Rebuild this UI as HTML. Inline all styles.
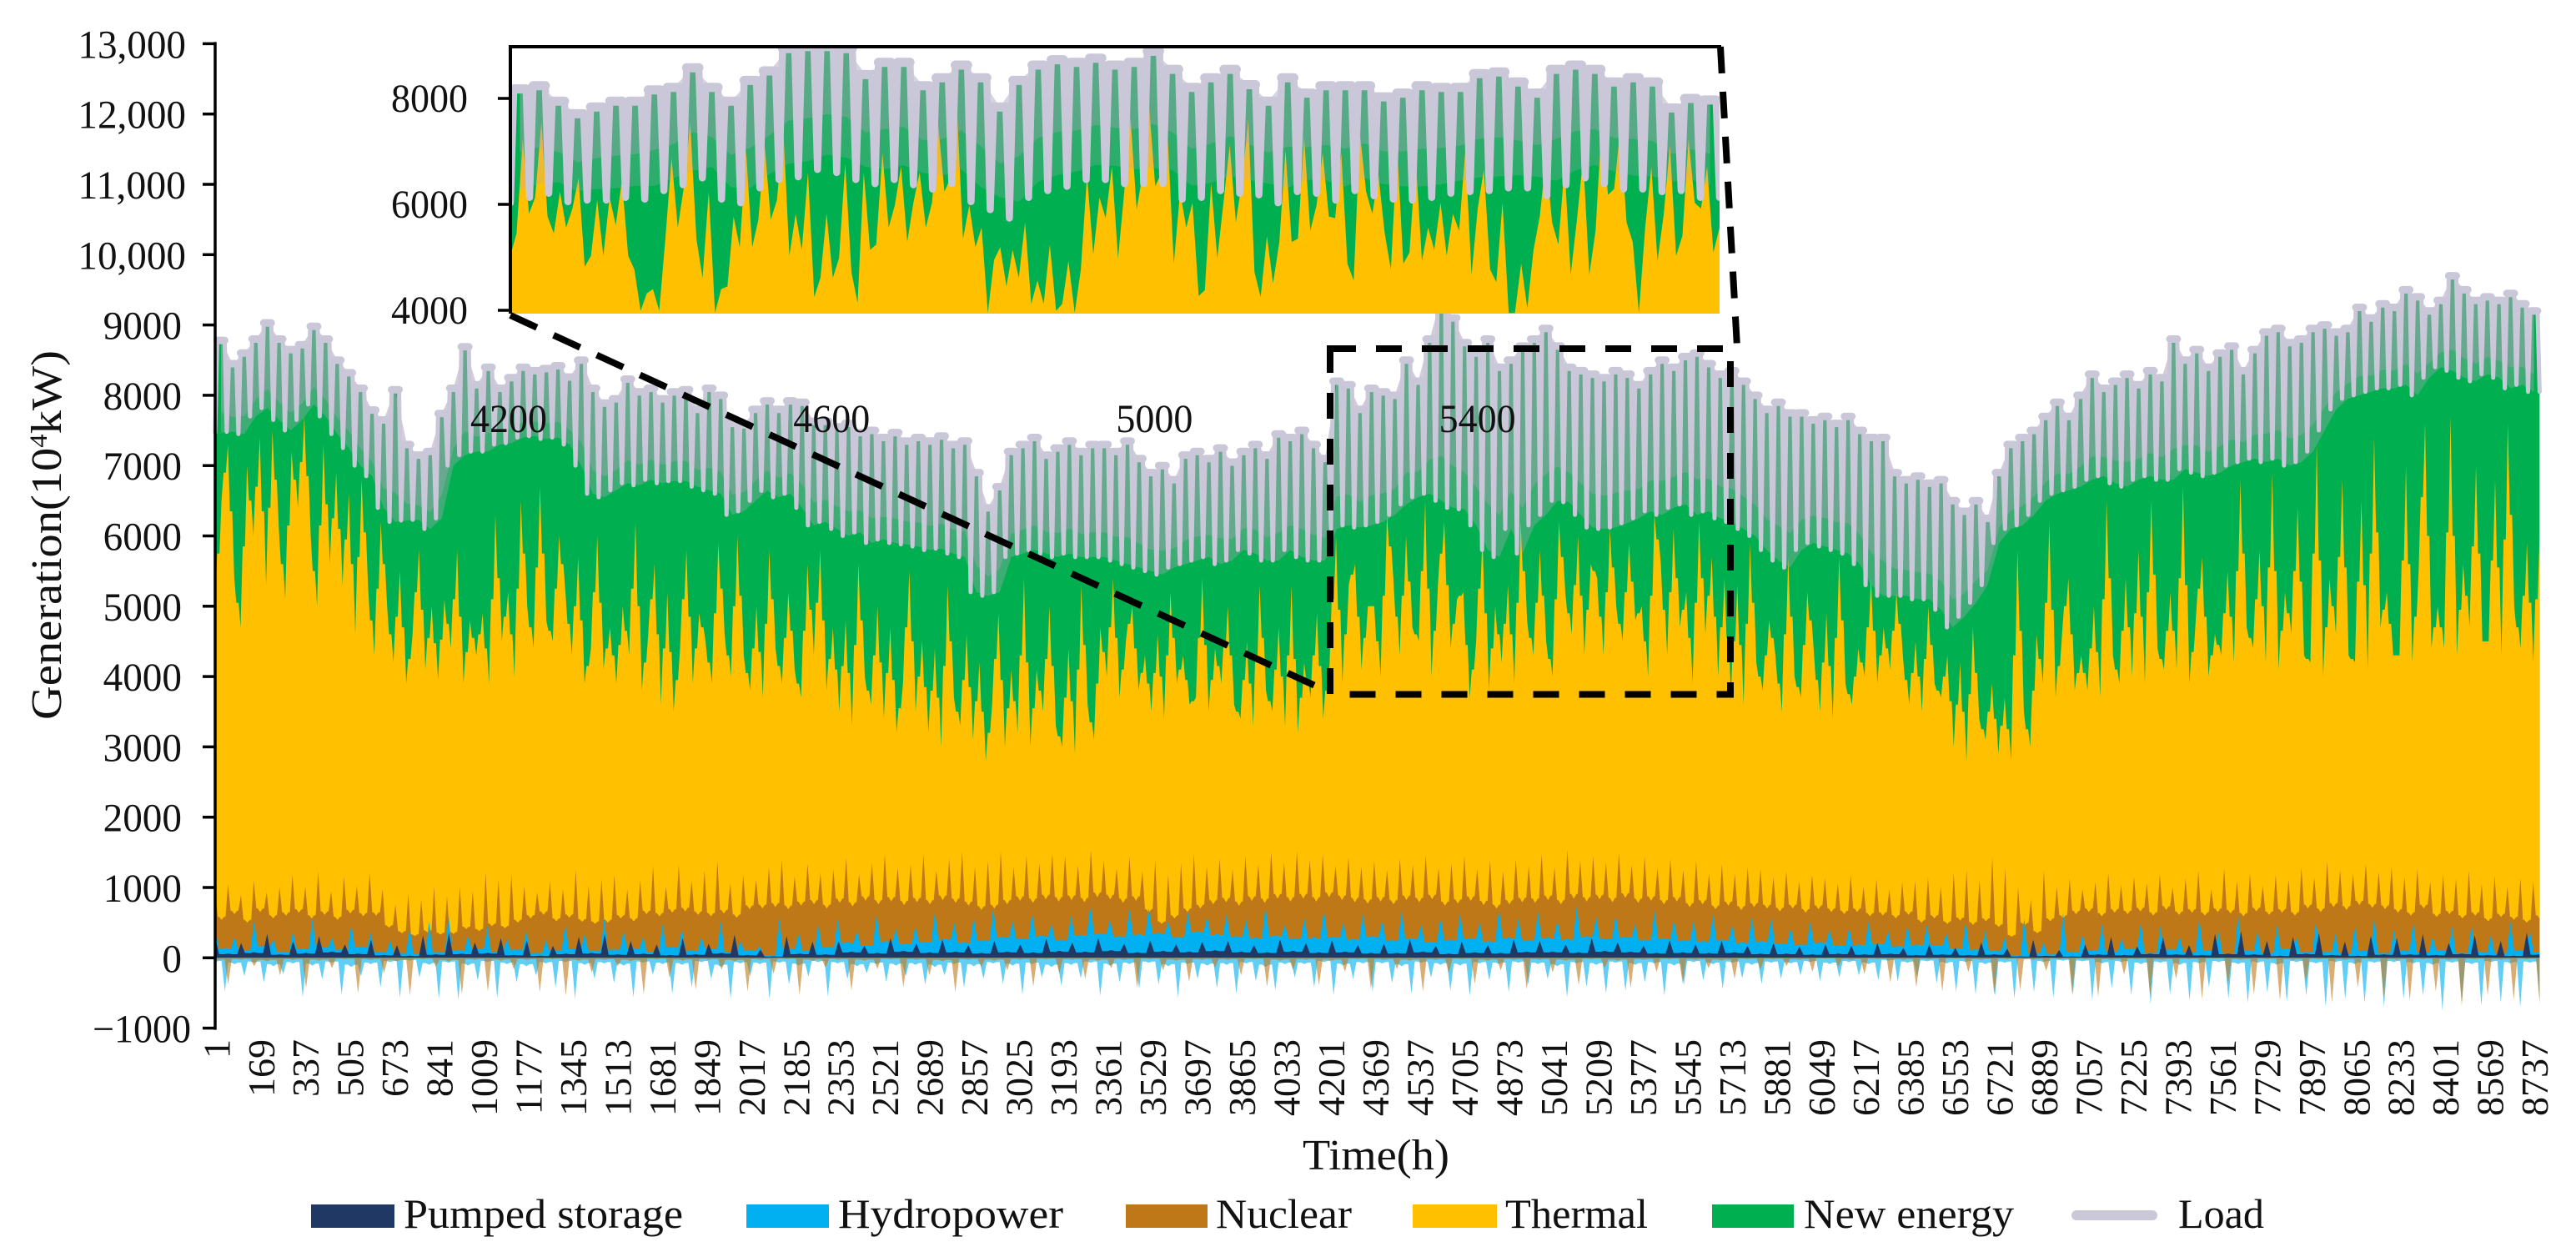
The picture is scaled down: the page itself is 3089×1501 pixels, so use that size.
<!DOCTYPE html>
<html lang="en">
<head>
<meta charset="utf-8">
<title>Generation stack chart</title>
<style>
html,body{margin:0;padding:0;background:#fff;}
svg{display:block;font-family:"Liberation Serif",serif;fill:#111;}
</style>
</head>
<body>
<svg id="chart" xmlns="http://www.w3.org/2000/svg" width="3089" height="1501" viewBox="0 0 3089 1501">
  <defs>
    <clipPath id="inset-clip"><rect x="612" y="56" width="1450" height="320"/></clipPath>
  </defs>
  <rect x="0" y="0" width="3089" height="1501" fill="#fff"/>
  <g id="main-marks"></g>
  <g id="axes"></g>
  <text transform="translate(73,863) rotate(-90)" font-size="52" textLength="443" lengthAdjust="spacingAndGlyphs">Generation(10<tspan font-size="30" dy="-17">4</tspan><tspan dy="17">kW)</tspan></text>
  <text x="1562" y="1402" font-size="52" textLength="176" lengthAdjust="spacingAndGlyphs">Time(h)</text>

  <rect x="1595" y="418" width="480" height="414.5" fill="none" stroke="#000" stroke-width="8" stroke-dasharray="31 24"/>
  <g id="inset-marks" clip-path="url(#inset-clip)"></g>
  <g id="inset-axes"></g>
  <line x1="610" y1="56" x2="2064" y2="56" stroke="#000" stroke-width="4"/>
  <line x1="612" y1="54" x2="612" y2="376" stroke="#000" stroke-width="4"/>
  <line x1="612" y1="378" x2="1590" y2="828" stroke="#000" stroke-width="8" stroke-dasharray="35 22"/>
  <line x1="2063" y1="56" x2="2083" y2="416" stroke="#000" stroke-width="8" stroke-dasharray="32 22"/>

  <g id="inset-x-labels"></g>

  <g>
    <g>
      <rect x="373" y="1444" width="100" height="28" fill="#1F3864"/>
      <text x="484" y="1472" font-size="50" textLength="335" lengthAdjust="spacingAndGlyphs">Pumped storage</text>
    </g>
    <g>
      <rect x="895" y="1444" width="99" height="28" fill="#00B0F0"/>
      <text x="1005" y="1472" font-size="50" textLength="270" lengthAdjust="spacingAndGlyphs">Hydropower</text>
    </g>
    <g>
      <rect x="1350" y="1444" width="98" height="28" fill="#BF7817"/>
      <text x="1458" y="1472" font-size="50" textLength="163" lengthAdjust="spacingAndGlyphs">Nuclear</text>
    </g>
    <g>
      <rect x="1694" y="1444" width="101" height="28" fill="#FFC000"/>
      <text x="1805" y="1472" font-size="50" textLength="171" lengthAdjust="spacingAndGlyphs">Thermal</text>
    </g>
    <g>
      <rect x="2053" y="1444" width="98" height="28" fill="#00B050"/>
      <text x="2163" y="1472" font-size="50" textLength="252" lengthAdjust="spacingAndGlyphs">New energy</text>
    </g>
    <g>
      <line x1="2490" y1="1457" x2="2581" y2="1457" stroke="#CAC7D9" stroke-width="12" stroke-linecap="round"/>
      <text x="2612" y="1472" font-size="50" textLength="103" lengthAdjust="spacingAndGlyphs">Load</text>
    </g>
  </g>
</svg>
<script>
const yTickValues = [-1000,0,1000,2000,3000,4000,5000,6000,7000,8000,9000,10000,11000,12000,13000];
const yTickLabels = ["\u22121000","0","1000","2000","3000","4000","5000","6000","7000","8000","9000","10,000","11,000","12,000","13,000"];
const xTickLabels = [1,169,337,505,673,841,1009,1177,1345,1513,1681,1849,2017,2185,2353,2521,2689,2857,3025,3193,3361,3529,3697,3865,4033,4201,4369,4537,4705,4873,5041,5209,5377,5545,5713,5881,6049,6217,6385,6553,6721,6889,7057,7225,7393,7561,7729,7897,8065,8233,8401,8569,8737];
const insetYTicks = [4000,6000,8000];
const insetXLabels = [4200,4600,5000,5400];

const loadPeaks = [
8780,8450,8600,8800, 9030,8800,8650,8720, 8980,8800,8500,8320, 8100,7790,7650,8080,
7300,7150,7200,7740, 8100,8690,8150,8400, 8100,8250,8400,8350, 8380,8420,8260,8500,
8100,7890,7950,8230, 8050,8100,7950,8050, 8080,7800,8100,8000, 7600,7580,7800,7920,
7800,7920,7900,7630, 7630,7550,7600,7470, 7500,7400,7470,7350, 7400,7350,7420,7300,
7350,6900,6400,6700, 7200,7300,7400,7150, 7250,7350,7200,7300, 7300,7200,7350,7100,
6900,7000,6800,7150, 7200,7100,7250,7050, 7200,7300,7150,7450, 7400,7500,7300,7100,
8200,8150,7800,8100, 8050,8000,8500,8200, 8800,9400,9100,8750, 8600,8800,8400,8500,
8700,8800,8950,8700, 8400,8350,8300,8250, 8350,8300,8150,8350, 8500,8400,8550,8600,
8450,8300,8350,8200, 8000,7800,7900,7750, 7750,7650,7700,7600, 7700,7500,7400,7400,
6900,6800,6850,6750, 6800,6500,6350,6500, 6250,6900,7300,7400, 7500,7700,7900,7700,
8000,8300,8100,8200, 8300,8150,8350,8250, 8800,8500,8650,8400, 8600,8700,8350,8650,
8900,8950,8750,8800, 8950,9000,8900,8950, 9250,9100,9300,9250, 9500,9400,9200,9350,
9700,9500,9350,9400, 9350,9450,9300,9200];
const loadTroughs = [
7470,7480,7450,7700, 7820,7650,7500,7650, 7870,7700,7450,7250, 7000,6850,6400,6200,
6220,6230,6100,6250, 7000,7150,7200,7200, 7300,7320,7400,7420, 7380,7400,7300,7000,
6600,6550,6650,6750, 6720,6800,6750,6780, 6780,6700,6650,6600, 6300,6350,6500,6640,
6550,6600,6400,6150, 6200,6100,6000,6050, 5900,5950,5900,5880, 5850,5800,5820,5750,
5700,5200,5150,5200, 5700,5750,5800,5750, 5700,5750,5700,5700, 5700,5650,5600,5550,
5500,5450,5550,5600, 5650,5700,5600,5650, 5800,5750,5650,5650, 5800,5700,5650,5650,
6100,6150,6120,6150, 6200,6300,6450,6550, 6600,6500,6400,6380, 6150,5800,5700,6100,
5750,6150,6300,6500, 6480,6300,6120,6100, 6120,6180,6250,6350, 6300,6400,6450,6300,
6350,6250,6200,6100, 6000,5800,5650,5550, 5800,5900,5850,5800, 5750,5600,5300,5150,
5150,5150,5100,5100, 4950,4700,4850,5050, 5300,5900,6100,6150, 6300,6500,6600,6650,
6700,6800,6850,6750, 6700,6800,6850,6800, 6800,6950,6900,6850, 6900,7000,7050,7100,
7050,7100,7000,7050, 7200,7500,7800,7950, 8000,8050,8100,8100, 8150,8000,8250,8400,
8350,8250,8200,8300, 8250,8100,8150,8050];
const thermalTop = [
5000,6500,7300,5400,4700,7000,6000, 7400,5300,7500,6100,5100,7200,6400, 7700,6000,5000,7300,5600,6900,5300,
6600,4600,6800,5300,4300,6200,5000, 4200,5500,3900,4600,5800,4100,5000, 3950,5100,4400,5800,3900,4800,4300,
4900,3900,6300,4500,5200,4000,6500, 5000,4400,6700,4800,4500,6000,5200, 4300,5700,3900,4400,6000,4100,4700,
3900,5000,4300,6200,3800,4600,5600, 3600,5200,3500,4400,5800,3900,4900, 4500,3900,5900,4600,4000,6000,4300,
3800,5000,3700,5800,4400,3900,5200, 4100,3700,5600,4300,5800,3800,4700, 3500,4800,3300,5600,4000,3600,5000,
3400,4700,3200,3900,5500,3500,4500, 3200,4400,3000,5300,3700,3300,4600, 3100,4200,2800,3600,4900,3000,4100,
3200,5400,3000,4100,3500,5000,3300, 3000,4400,2900,5300,3600,3100,4700, 4000,5400,3700,4500,5000,3800,4300,
3500,4600,3400,5200,3900,4300,3600, 3700,5400,3500,4400,3900,5000,3600, 3400,4500,3300,5300,3800,3500,4700,
3300,5300,3200,4200,3700,4900,3400, 4200,6000,3900,5300,5600,4100,5000, 5000,4000,6300,5400,4300,6000,4700,
4500,6500,4000,5300,6200,4400,5100, 5200,3700,4500,6000,3800,5000,4200, 5300,3900,6200,4800,4300,5800,4500,
4000,6200,5200,4600,6000,4300,5600, 5400,4300,6100,5000,4500,5900,4800, 5000,4000,6300,5600,4300,6100,4700,
5200,3900,6200,4600,5700,4000,5400, 3700,5300,3600,5900,4200,3800,4800, 4300,3500,5700,4000,3700,5200,4400,
3500,4900,3400,5700,3900,3600,4400, 4000,5400,3900,4700,4100,5200,4300, 3600,4500,3500,5000,3900,3700,4300,
3000,4200,2800,4700,3400,3100,3900, 2900,3700,2800,5800,3500,3000,4600, 3900,6200,3700,4600,5400,3800,4300,
3800,5000,3700,6500,4300,3900,5400, 4000,5800,3900,6500,4400,4100,5200, 4100,6700,3900,4800,5700,4000,4600,
4300,5500,4200,6800,4700,4400,5800, 4200,6900,4100,5200,4600,6400,4300, 4200,7300,4000,5400,4600,6800,4300,
4200,6500,4100,7400,4700,5200,4300, 4300,7000,4200,5500,7600,4400,5000, 4400,7700,4300,5600,4700,7000,4500,
4500,6800,4300,7600,5000,4400,5900, 4200,6000];
const nuclearTop = [
980,540,1050,620,890,500,1100,650,930,560,1010,600,
1180,640,1010,560,1230,610,950,540,1160,630,1020,590,
1210,600,980,430,760,350,920,310,830,360,1010,330,
880,340,1020,410,950,380,1210,450,1120,420,1190,500,
1020,560,930,610,1090,520,980,570,1250,510,1030,480,
1120,500,1180,560,970,520,1110,620,1310,590,1010,640,
1320,660,1100,610,1240,590,1380,630,1060,570,1180,690,
1110,700,1290,720,1400,690,1160,740,1340,760,1210,700,
1260,780,1420,730,1190,810,1350,760,1470,800,1280,750,
1330,790,1480,760,1240,820,1410,780,1510,740,1300,680,
1380,700,1520,760,1290,810,1450,780,1340,830,1490,800,
1460,820,1310,790,1530,860,1390,830,1270,780,1440,810,
1240,640,1390,480,1180,560,1350,650,1480,700,1300,760,
1410,790,1260,740,1450,810,1330,780,1500,840,1360,800,
1520,840,1390,800,1470,860,1310,820,1430,790,1290,770,
1380,800,1250,760,1410,820,1320,790,1460,830,1280,740,
1340,770,1450,810,1270,750,1390,700,1230,760,1400,790,
1310,780,1470,820,1290,760,1540,840,1380,800,1450,830,
1360,790,1500,850,1320,780,1440,810,1280,760,1410,800,
1250,720,1380,760,1200,690,1330,740,1190,680,1290,720,
1270,700,1150,660,1230,700,1090,640,1180,690,1130,650,
1060,620,1180,650,1010,590,1120,600,980,560,1080,610,
1090,500,1150,560,1020,480,1200,530,1240,470,1110,520,
1430,440,1280,300,1000,460,830,350,1240,520,1010,560,
1130,620,980,650,1080,590,1210,640,1040,620,1150,660,
1060,600,1190,680,1010,610,1130,640,1240,600,980,650,
1270,630,1090,590,1200,660,1030,610,1180,640,1110,600,
1290,700,1140,650,1370,720,1250,680,1200,750,1340,710,
1220,690,1300,640,1150,600,1260,700,1080,580,1190,620,
1120,560,1240,600,1050,520,1170,580,1010,540,1130,500,1090,560];
const hydroTop = [
440,140,300,110,520,170,260,90, 380,130,560,150,290,120,470,160, 350,80,250,70,420,60,510,90,
600,110,320,130,450,90,270,120, 390,70,250,110,470,130,350,100, 560,120,380,140,300,90,480,150,
410,100,290,130,520,80,240,110, 170,40,560,130,360,100,480,150, 540,220,380,180,620,240,410,200,
450,230,660,270,500,220,580,250, 700,300,520,280,640,320,480,260, 600,330,760,350,540,310,690,340,
710,360,520,300,640,380,590,340, 620,310,540,290,730,320,470,280, 560,290,680,300,500,270,620,310,
540,250,660,280,470,230,580,260, 620,280,500,240,700,290,560,250, 650,290,530,270,740,310,590,280,
610,300,480,260,680,280,540,250, 520,240,620,260,470,220,570,240, 560,210,430,190,510,220,400,180,
430,190,520,200,380,170,460,190, 470,180,350,140,520,120,390,100, 300,40,560,70,220,50,640,90,
340,110,480,90,270,130,520,70, 450,120,300,80,560,110,370,60, 620,100,380,70,460,130,290,90,
520,90,340,60,460,100,580,70, 390,100,510,80,300,110,440,70, 470,90,330,60,520,100,380,80];
const pumpedTop = [
290,60,210,80,340,50, 240,70,310,90,190,60, 260,40,180,30,320,50, 350,60,220,70,280,40,
250,30,170,60,300,70, 340,50,240,60,190,40, 280,50,200,70,330,40, 120,20,310,60,230,50,
240,90,170,70,280,100, 200,80,260,90,180,70, 240,90,190,80,270,100, 220,90,280,110,200,80,
250,100,190,90,230,110, 240,90,180,80,260,100, 210,80,250,90,180,70, 200,70,260,90,170,60,
230,80,180,70,260,90, 240,90,190,80,280,100, 220,90,170,70,250,80, 190,70,240,80,170,60,
210,60,160,50,190,60, 170,50,210,60,140,40, 190,50,140,40,220,50, 130,20,260,30,110,20,
190,50,300,40,160,60, 290,50,180,40,340,60, 380,50,240,30,300,60, 350,40,230,30,310,50,
280,50,340,40,210,60, 320,40,240,30,360,50];
const negativeHydro = [
-60,-480,-90,-260,-70,-350,-120,-230, -80,-560,-110,-300,-70,-520,-130,-260, -90,-420,-60,-570,-40,-280,-100,-580,
-70,-600,-110,-320,-60,-570,-90,-350, -120,-250,-80,-420,-60,-580,-100,-300, -80,-360,-110,-560,-70,-240,-90,-510,
-100,-420,-60,-300,-130,-580,-80,-260, -90,-590,-70,-380,-110,-270,-60,-550, -80,-300,-120,-220,-90,-340,-110,-260,
-100,-380,-130,-250,-90,-420,-120,-300, -80,-370,-110,-520,-90,-280,-130,-400, -100,-290,-70,-540,-110,-350,-90,-440,
-70,-380,-120,-560,-90,-300,-110,-430, -100,-510,-80,-330,-130,-460,-90,-280, -90,-420,-60,-530,-110,-300,-80,-480,
-80,-360,-120,-510,-70,-280,-100,-470, -110,-540,-80,-320,-90,-490,-70,-380, -90,-300,-120,-560,-80,-410,-100,-510,
-70,-470,-100,-350,-80,-540,-110,-390, -60,-320,-90,-440,-70,-290,-100,-370, -70,-300,-80,-250,-60,-330,-90,-280,
-60,-250,-90,-320,-40,-340,-70,-270, -50,-360,-80,-480,-60,-520,-90,-540, -70,-580,-20,-490,-60,-570,-40,-540,
-50,-600,-80,-430,-60,-530,-90,-660, -70,-520,-100,-610,-80,-420,-60,-580, -90,-640,-70,-500,-100,-620,-60,-540,
-80,-700,-60,-590,-90,-640,-70,-700, -60,-580,-80,-540,-100,-750,-70,-610, -90,-680,-60,-640,-80,-700,-70,-600];
const negativeNuclear = [
-40,-380,-30,-120,-50,-250, -30,-430,-40,-150,-20,-510, -30,-220,-50,-540,-20,-130, -50,-520,-30,-480,-40,-160,
-30,-490,-20,-540,-40,-210, -30,-120,-50,-520,-20,-290, -40,-450,-30,-170,-50,-480, -30,-230,-20,-530,-40,-140,
-30,-470,-40,-160,-20,-420, -30,-250,-50,-490,-30,-130, -40,-180,-30,-410,-20,-220, -30,-300,-40,-150,-30,-430,
-20,-180,-40,-340,-30,-140, -30,-250,-20,-410,-40,-170, -30,-390,-40,-200,-20,-440, -30,-160,-40,-480,-30,-220,
-20,-370,-40,-180,-30,-450, -30,-210,-40,-390,-20,-150, -40,-430,-30,-200,-20,-360, -30,-150,-40,-300,-20,-170,
-20,-120,-30,-200,-10,-130, -30,-230,-20,-350,-30,-420, -20,-480,-10,-200,-30,-530, -20,-460,-30,-190,-20,-500,
-20,-550,-30,-240,-20,-530, -30,-300,-20,-590,-10,-380, -30,-520,-20,-610,-30,-340, -20,-640,-30,-420,-20,-570,
-30,-610,-20,-480,-30,-680, -20,-530,-30,-600,-20,-660];

const insetLoadPeaks = [8180,8240,7950,7710,7840,7950,7950,8160,8210,8580,8210,7950,8340,8520,8940,8980,8980,8940,8450,8680,8680,
8240,8390,8630,8390,7840,8340,8630,8730,8680,8760,8630,8680,8890,8550,8210,8390,8550,8260,7950,8390,8100,
8240,8240,8240,8030,8100,8240,8210,8210,8470,8500,8310,8100,8550,8630,8550,8310,8390,8310,7820,8000,7970];
const insetLoadTroughs = [6030,6130,6210,6050,6080,6080,6130,6100,6260,6370,6500,6100,6030,6310,6470,6520,6660,6600,6470,6390,6470,
6370,6290,6390,6050,5900,5740,6130,6260,6340,6470,6470,6390,6390,6390,6100,6130,6260,6210,6180,6030,6240,
6210,6080,6260,6160,6100,6080,6130,6210,6240,6260,6310,6310,6160,6370,6500,6390,6290,6290,6240,6260,6130];
const insetThermalTop = [
5030,5450,7230,5820,6130,7550,5770,5450,6240,5560,5920,6500,4820,5030,6080,5030,6130,5610,6450,5030,4770,3990,4320,4400,3990,5350,6870,5560,6340,7550,5350,4610,6240,3950,4400,4450,5770,5190,7020,5190,5710,7120,5710,6080,7440,5030,5820,5140,6600,4250,4610,5820,4610,4980,6760,4720,4140,6600,5140,5240,6970,5560,5980,6710,
5290,6030,6600,5560,6030,7500,6240,6500,7860,5350,5980,5190,5560,3950,4950,5190,4450,5140,4610,5660,4120,4560,4120,5240,3990,4120,4930,3950,4770,6550,5060,6130,5740,6710,4980,6240,7650,5900,6600,7860,6340,6600,7290,4880,6240,5560,6030,4270,4380,6400,4980,6030,7120,5660,6450,7600,4720,4250,5400,4510,5290,7020,5290,5350,7290,5500,5980,
6970,5770,5740,6970,4880,4560,7340,6240,5820,6550,5450,4770,7080,4880,5090,6870,4930,5560,5140,6030,5030,5820,5500,7020,4670,5920,6660,4770,4530,6030,3950,3950,4880,4040,5140,5770,6870,5660,5240,6710,4670,5710,6870,4670,5500,7550,6180,6290,7440,5660,5290,3950,5560,6710,4930,5820,7120,5030,5400,7230,6030,5920,6710,5090,5560];

const SVGNS = "http://www.w3.org/2000/svg";
const hourMax = 8760;
const xScale = h => 258 + h * 0.3182;
const yScale = v => 1148.3 - v * 0.0843;
const insetHourStart = 4201;
const insetHourEnd = 5713;
const insetX = h => 612 + (h - insetHourStart) * (1450 / (insetHourEnd - insetHourStart));
const insetY = v => 372 - (v - 4000) * 0.0635;

function make(tag, attrs, parent) {
  const el = document.createElementNS(SVGNS, tag);
  for (const k in attrs) el.setAttribute(k, attrs[k]);
  parent.appendChild(el);
  return el;
}
function pointsFromValues(values, hStart, hEnd) {
  return values.map((v, i) => [hStart + i * (hEnd - hStart) / (values.length - 1), v]);
}
/* thin spikes both ways around the running mean of neighbouring samples */
function meanSpikePoints(values, hStart, hEnd, w) {
  const s = (hEnd - hStart) / (values.length - 1), pts = [];
  values.forEach((v, i) => {
    const t = hStart + i * s;
    pts.push([t, v]);
    if (i < values.length - 1) {
      const m = (v + values[i + 1]) / 2;
      pts.push([t + w * s, m]);
      pts.push([t + (1 - w) * s, m]);
    }
  });
  return pts;
}
/* thin spikes rising from a body held closer to zero than either neighbour */
function bodySpikePoints(values, hStart, hEnd, w, k) {
  const s = (hEnd - hStart) / (values.length - 1), pts = [];
  values.forEach((v, i) => {
    const t = hStart + i * s;
    pts.push([t, v]);
    if (i < values.length - 1) {
      const next = values[i + 1];
      const m = (Math.abs(v) < Math.abs(next) ? v : next) * k;
      pts.push([t + w * s, m]);
      pts.push([t + (1 - w) * s, m]);
    }
  });
  return pts;
}
function loadPoints(peaks, troughs, hStart, hEnd) {
  const n = peaks.length, p = (hEnd - hStart) / n, pts = [];
  for (let i = 0; i < n; i++) {
    const t = hStart + i * p;
    pts.push([t, troughs[i]]);
    pts.push([t + 0.18 * p, peaks[i]]);
    pts.push([t + 0.82 * p, peaks[i]]);
  }
  pts.push([hEnd, troughs[n - 1]]);
  return pts;
}
function peakCapPath(peaks, hStart, hEnd, x, y) {
  const n = peaks.length, p = (hEnd - hStart) / n;
  return peaks.map((v, i) => {
    const t = hStart + i * p;
    return "M" + x(t + 0.18 * p).toFixed(1) + " " + y(v).toFixed(1) + "L" + x(t + 0.82 * p).toFixed(1) + " " + y(v).toFixed(1);
  }).join("");
}
function linePath(pts, x, y) {
  return pts.map((q, i) => (i ? "L" : "M") + x(q[0]).toFixed(1) + " " + y(q[1]).toFixed(1)).join("");
}
function areaPath(pts, x, y, base) {
  const a = pts[0][0], b = pts[pts.length - 1][0];
  return "M" + x(a).toFixed(1) + " " + y(base).toFixed(1) + linePath(pts, x, y).replace("M", "L") + "L" + x(b).toFixed(1) + " " + y(base).toFixed(1) + "Z";
}
function bandPath(peaks, troughs, lift, hStart, hEnd, x, y) {
  const n = peaks.length, p = (hEnd - hStart) / n, top = [], low = [];
  for (let i = 0; i < n; i++) {
    top.push([hStart + (i + 0.5) * p, peaks[i]]);
    low.push([hStart + (i + 0.5) * p, troughs[i] + (peaks[i] - troughs[i]) * lift]);
  }
  return linePath(top.concat(low.reverse()), x, y) + "Z";
}

/* main chart */
const mainG = document.getElementById("main-marks");
const mainLoad = loadPoints(loadPeaks, loadTroughs, 0, hourMax);

const areaNew = make("path", {d: areaPath(mainLoad, xScale, yScale, 0), fill: "#00B050"}, mainG);



const areaThermal = make("path", {d: areaPath(meanSpikePoints(thermalTop, 0, hourMax, 0.32), xScale, yScale, 0), fill: "#FFC000"}, mainG);



const areaNuclear = make("path", {d: areaPath(bodySpikePoints(nuclearTop, 0, hourMax, 0.4, 1.08), xScale, yScale, 0), fill: "#BF7817"}, mainG);



const areaHydro = make("path", {d: areaPath(bodySpikePoints(hydroTop, 0, hourMax, 0.38, 0.95), xScale, yScale, 0), fill: "#00B0F0"}, mainG);



const areaPumped = make("path", {d: areaPath(bodySpikePoints(pumpedTop, 0, hourMax, 0.3, 0.85), xScale, yScale, 0), fill: "#1F3864"}, mainG);



const areaNegHydro = make("path", {d: areaPath(bodySpikePoints(negativeHydro, 0, hourMax, 0.34, 0.75), xScale, yScale, 0), fill: "#00B0F0", "fill-opacity": "0.62"}, mainG);



const areaNegNuclear = make("path", {d: areaPath(bodySpikePoints(negativeNuclear, 0, hourMax, 0.28, 0.6), xScale, yScale, 0), fill: "#BF7817", "fill-opacity": "0.6"}, mainG);



const bandA = make("path", {d: bandPath(loadPeaks, loadTroughs, 0, 0, hourMax, xScale, yScale), fill: "#B5A5BE", "fill-opacity": "0.34"}, mainG);



const bandB = make("path", {d: bandPath(loadPeaks, loadTroughs, 0.22, 0, hourMax, xScale, yScale), fill: "#B5A5BE", "fill-opacity": "0.34"}, mainG);



const lineLoad = make("path", {d: linePath(mainLoad, xScale, yScale), fill: "none", stroke: "#CAC7D9", "stroke-width": "5", "stroke-linejoin": "round", "stroke-linecap": "round"}, mainG);



const capLoad = make("path", {d: peakCapPath(loadPeaks, 0, hourMax, xScale, yScale), fill: "none", stroke: "#CAC7D9", "stroke-width": "9", "stroke-linecap": "round"}, mainG);



/* main axes */
const axesG = document.getElementById("axes");
const yAxisLine = make("line", {x1: 258, x2: 258, y1: yScale(13000) - 2, y2: yScale(-1000) + 2, stroke: "#000", "stroke-width": 3.5}, axesG);



yTickValues.forEach((v, i) => {
  const tick = make("line", {x1: 243, x2: 258, y1: yScale(v), y2: yScale(v), stroke: "#000", "stroke-width": 3.5}, axesG);
  
  
  const label = yTickLabels[i];
  const anchorX = label.indexOf(",") > 0 ? 223 : (label.charAt(0) === "\u2212" ? 229 : 218);
  const txt = make("text", {x: anchorX, y: yScale(v) + 17, "font-size": 48, "text-anchor": "end", textLength: label.length * 23.6 - (label.indexOf(",") > 0 ? 12 : 0), lengthAdjust: "spacingAndGlyphs"}, axesG);
  
  
  txt.textContent = label;
});
xTickLabels.forEach(h => {
  const px = xScale(h) + 17;
  const txt = make("text", {x: px, y: 1246, "font-size": 46, "text-anchor": "end", transform: "rotate(-90 " + px.toFixed(1) + " 1246)"}, axesG);
  
  
  txt.textContent = String(h);
});

/* inset */
const insetG = document.getElementById("inset-marks");
const insetLoad = loadPoints(insetLoadPeaks, insetLoadTroughs, insetHourStart, insetHourEnd);

const insetBg = make("rect", {x: 612, y: 56, width: 1450, height: 320, fill: "#fff"}, insetG);



const insetNew = make("path", {d: areaPath(insetLoad, insetX, insetY, 3800), fill: "#00B050"}, insetG);



const insetThermal = make("path", {d: areaPath(pointsFromValues(insetThermalTop, insetHourStart, insetHourEnd), insetX, insetY, 3800), fill: "#FFC000"}, insetG);



const insetBandA = make("path", {d: bandPath(insetLoadPeaks, insetLoadTroughs, 0.12, insetHourStart, insetHourEnd, insetX, insetY), fill: "#B5A5BE", "fill-opacity": "0.25"}, insetG);



const insetBandB = make("path", {d: bandPath(insetLoadPeaks, insetLoadTroughs, 0.45, insetHourStart, insetHourEnd, insetX, insetY), fill: "#B5A5BE", "fill-opacity": "0.32"}, insetG);



const insetLine = make("path", {d: linePath(insetLoad, insetX, insetY), fill: "none", stroke: "#CAC7D9", "stroke-width": "8.5", "stroke-linejoin": "round", "stroke-linecap": "round"}, insetG);



const insetCap = make("path", {d: peakCapPath(insetLoadPeaks, insetHourStart, insetHourEnd, insetX, insetY), fill: "none", stroke: "#CAC7D9", "stroke-width": "11", "stroke-linecap": "round"}, insetG);



const insetAxes = document.getElementById("inset-axes");
insetYTicks.forEach(v => {
  const tick = make("line", {x1: 597, x2: 612, y1: insetY(v), y2: insetY(v), stroke: "#000", "stroke-width": 3.5}, insetAxes);
  
  
  const txt = make("text", {x: 561, y: insetY(v) + 16, "font-size": 48, "text-anchor": "end", textLength: 92, lengthAdjust: "spacingAndGlyphs"}, insetAxes);
  
  
  txt.textContent = String(v);
});

const insetLabelG = document.getElementById("inset-x-labels");
insetXLabels.forEach((h, i) => {
  const txt = make("text", {x: 610 + (h - insetXLabels[0]) * 0.968, y: 518, "font-size": 48, "text-anchor": "middle", textLength: 92, lengthAdjust: "spacingAndGlyphs"}, insetLabelG);
  
  
  txt.textContent = String(h);
});
</script>
</body>
</html>
